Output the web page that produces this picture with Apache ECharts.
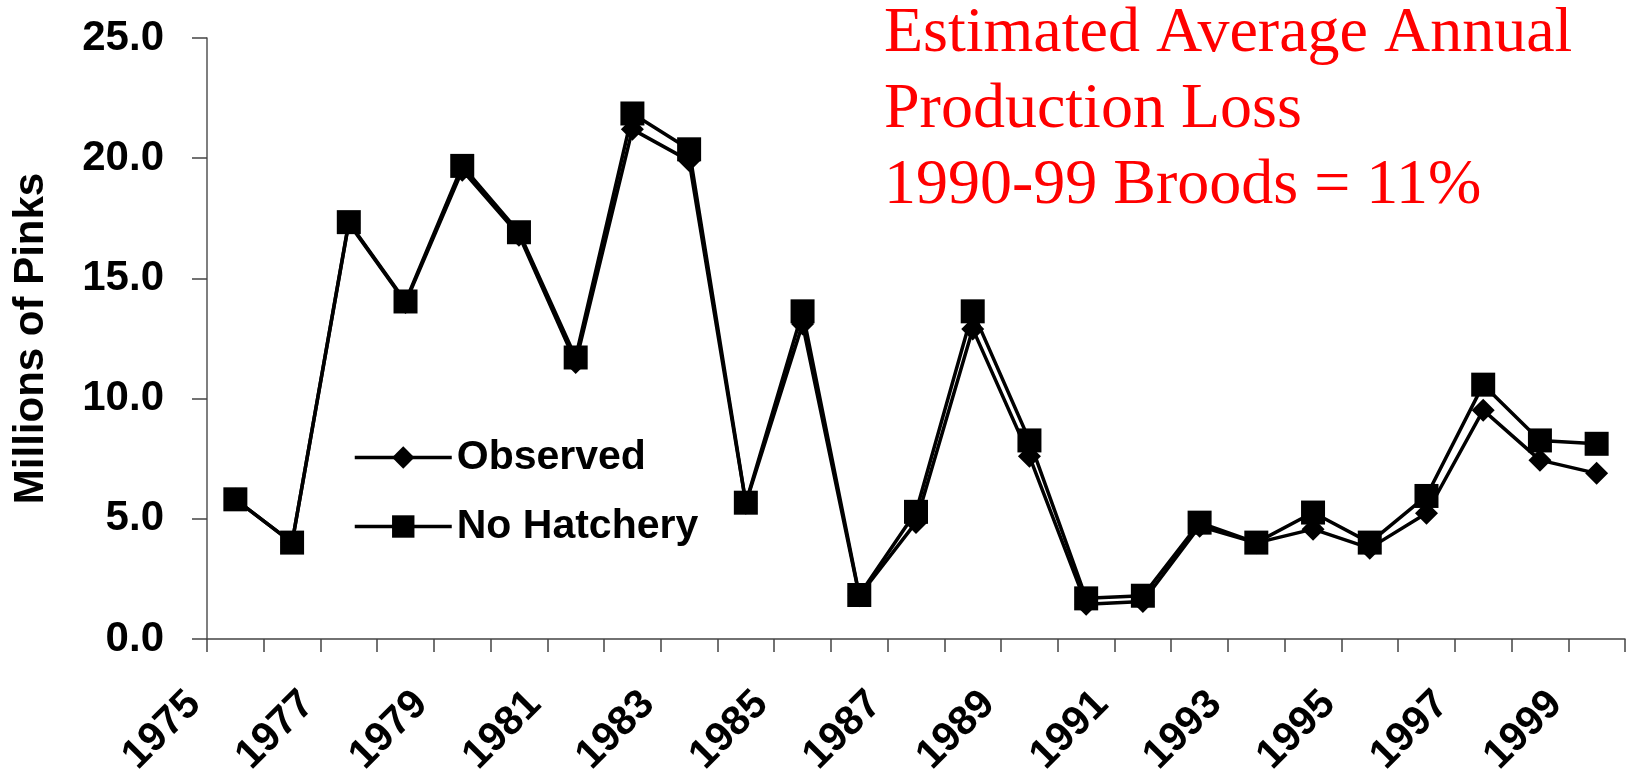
<!DOCTYPE html>
<html>
<head>
<meta charset="utf-8">
<script src="https://cdn.jsdelivr.net/npm/echarts@6/dist/echarts.min.js"></script>
<style>
html,body{margin:0;padding:0;background:#fff;}
#chart{width:1639px;height:769px;}
</style>
</head>
<body>
<div id="chart"></div>
<script>
const years = ['1975','1976','1977','1978','1979','1980','1981','1982','1983','1984','1985','1986','1987','1988','1989','1990','1991','1992','1993','1994','1995','1996','1997','1998','1999'];
const observed = [5.81, 4.01, 17.3, 14.0, 19.5, 16.8, 11.5, 21.2, 19.9, 5.65, 13.1, 1.8, 4.85, 12.9, 7.6, 1.45, 1.56, 4.69, 4.0, 4.57, 3.78, 5.23, 9.52, 7.44, 6.89];
const noHatchery = [5.81, 4.01, 17.34, 14.04, 19.68, 16.92, 11.71, 21.86, 20.37, 5.67, 13.63, 1.83, 5.29, 13.63, 8.26, 1.69, 1.80, 4.84, 4.01, 5.26, 4.01, 5.95, 10.58, 8.26, 8.12];
const titleLines = ['Estimated Average Annual', 'Production Loss', '1990-99 Broods = 11%'];
const yTicks = { min: 0, max: 25, interval: 5 };

const chart = echarts.init(document.getElementById('chart'), null, { renderer: 'canvas' });
const sans = 'Arial, "Liberation Sans", sans-serif';
const labelFont = { fontFamily: sans, fontSize: 41, fontWeight: 'bold', color: '#000' };
chart.setOption({
  animation: false,
  backgroundColor: '#ffffff',
  title: {
    text: titleLines.join('\n'),
    left: 884,
    top: -4,
    padding: 0,
    textStyle: {
      fontFamily: '"Times New Roman", "Liberation Serif", serif',
      fontSize: 64,
      fontWeight: 'normal',
      lineHeight: 76,
      color: '#ff0000'
    }
  },
  legend: {
    orient: 'vertical',
    left: 353,
    top: 437,
    padding: 0,
    itemWidth: 97,
    itemHeight: 28,
    itemGap: 28,
    lineStyle: { width: 3.5 },
    textStyle: { fontFamily: sans, fontSize: 41, fontWeight: 'bold', color: '#000', lineHeight: 40 },
    data: ['Observed', 'No Hatchery']
  },
  grid: [
    { left: 207, top: 38, width: 1418, height: 601, containLabel: false, outerBoundsMode: 'none' },
    // label-only grid: Excel draws the rotated year labels ending at the category's left edge
    { left: 166, top: 38, width: 1418, height: 601, containLabel: false, outerBoundsMode: 'none' }
  ],
  xAxis: [
    {
      type: 'category',
      gridIndex: 0,
      data: years,
      boundaryGap: true,
      axisLine: { show: true, lineStyle: { color: '#444', width: 1.5 } },
      axisTick: { show: true, interval: 0, length: 13, inside: false, lineStyle: { color: '#444', width: 1.5 } },
      axisLabel: { show: false },
      splitLine: { show: false }
    },
    {
      type: 'category',
      gridIndex: 1,
      data: years,
      boundaryGap: true,
      axisLine: { show: false },
      axisTick: { show: false },
      axisLabel: Object.assign({
        interval: function (idx) { return idx % 2 === 0; },
        showMinLabel: true,
        showMaxLabel: true,
        rotate: 45,
        margin: 59
      }, labelFont),
      splitLine: { show: false }
    }
  ],
  yAxis: [
    {
      type: 'value',
      gridIndex: 0,
      min: yTicks.min,
      max: yTicks.max,
      interval: yTicks.interval,
      name: 'Millions of Pinks',
      nameLocation: 'middle',
      nameGap: 155,
      nameTextStyle: { fontFamily: sans, fontSize: 42, fontWeight: 'bold', color: '#000' },
      axisLine: { show: true, lineStyle: { color: '#555', width: 1.5 } },
      axisTick: { show: true, length: 15, inside: false, lineStyle: { color: '#444', width: 1.5 } },
      axisLabel: {
        margin: 43,
        fontFamily: sans,
        fontSize: 42,
        fontWeight: 'bold',
        color: '#000',
        formatter: function (v) { return v.toFixed(1); }
      },
      splitLine: { show: false }
    },
    { type: 'value', gridIndex: 1, show: false, min: yTicks.min, max: yTicks.max }
  ],
  series: [
    {
      name: 'Observed',
      type: 'line',
      xAxisIndex: 0,
      yAxisIndex: 0,
      data: observed,
      symbol: 'diamond',
      symbolSize: 23,
      showAllSymbol: true,
      lineStyle: { color: '#000', width: 3.5 },
      itemStyle: { color: '#000', borderWidth: 0 }
    },
    {
      name: 'No Hatchery',
      type: 'line',
      xAxisIndex: 0,
      yAxisIndex: 0,
      data: noHatchery,
      symbol: 'rect',
      symbolSize: 24,
      showAllSymbol: true,
      lineStyle: { color: '#000', width: 3.5 },
      itemStyle: { color: '#000', borderWidth: 0 }
    }
  ]
});
</script>
</body>
</html>
